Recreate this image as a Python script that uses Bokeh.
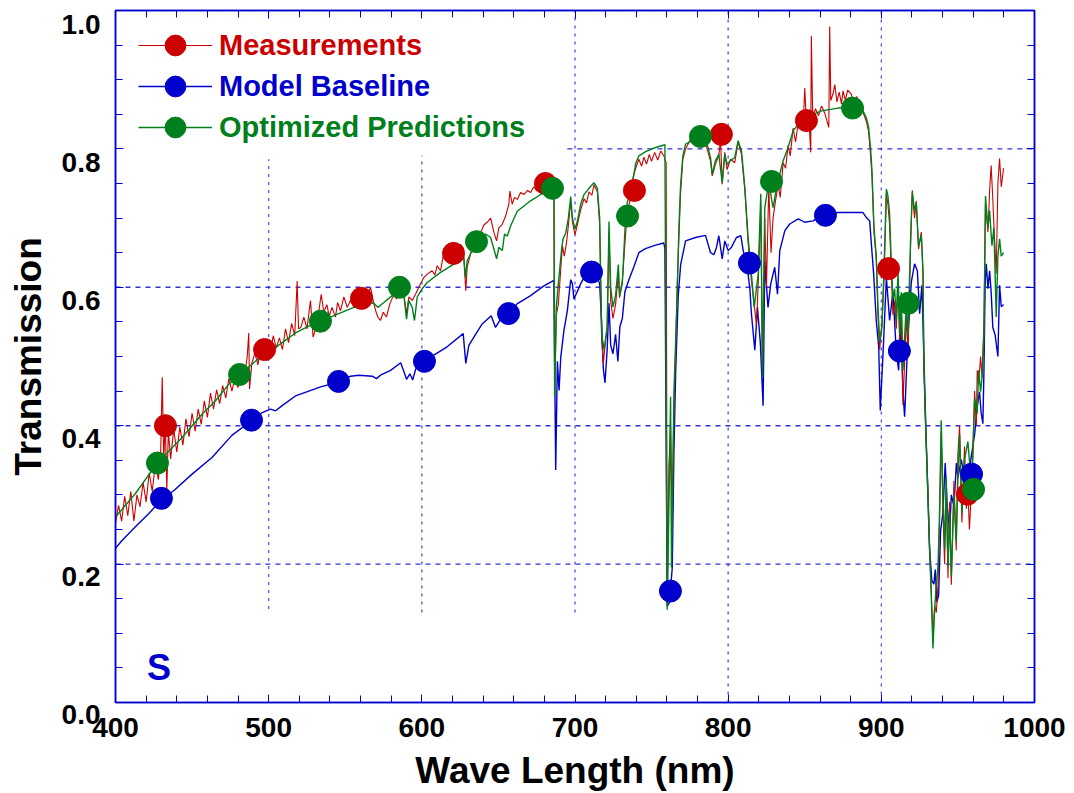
from bokeh.plotting import figure
from bokeh.models import (Range1d, LinearAxis, FixedTicker, Legend,
                          LegendItem, Label, ColumnDataSource)
from bokeh.embed import file_html
from bokeh.resources import INLINE

# ---------------- data ----------------
MEAS_X = [400, 402, 404, 406, 408, 410, 412, 414, 416, 418, 420, 422, 424, 426, 428, 429.5, 430.5, 431.5,
          432.5, 433.5, 434.5, 436, 438, 440, 442, 444, 446, 448, 450, 452, 454, 456, 458, 460, 462, 464,
          466, 468, 470, 472, 474, 476, 478, 480, 482, 484, 486, 487, 487.5, 489, 491, 493, 495, 497, 499,
          501, 503, 505, 507, 509, 511, 513, 515, 517, 518.6, 519.5, 521, 523, 525, 527.3, 529, 531.6,
          534.3, 536, 538, 539.5, 541.4, 543.6, 545, 546.9, 549.1, 551.3, 553.4, 555.5, 557.5, 559.5,
          561.5, 563, 564.3, 566.5, 568.7, 570, 571.3, 573, 574.8, 576.9, 579.1, 581.8, 583.5, 585,
          588.2, 590, 591.5, 593.7, 595.9, 598, 601.3, 603.5, 606.7, 608.5, 610, 612.2, 614.8, 616.5,
          618.5, 620, 622, 623.5, 625.2, 627, 628.7, 629.6, 631.8, 634, 636, 638.4, 640.5, 642.7, 644.9,
          647.1, 648.8, 650.3, 652.5, 654.7, 656.8, 657.5, 659, 660.5, 662.3, 664.5, 666.6, 669, 671,
          673, 675.3, 677.5, 680, 682, 684, 686.2, 686.7, 687.8, 689.1, 690.5, 691.8, 693, 694.5, 695.7,
          697.2, 698.3, 700, 701.5, 703.7, 705.9, 707.5, 709.1, 711, 712.4, 714.6, 716.1, 717.4, 718.5,
          719.6, 721, 722.2, 723.3, 724.8, 726.5, 728.3, 729.1, 730.9, 732.5, 734.1, 736.3, 738, 739.6,
          741.7, 743.5, 745, 746.7, 748.5, 750, 752, 754, 756, 758, 759.5, 760.2, 761.3, 762.4, 763.5,
          764.6, 765.7, 766.7, 767.8, 768.9, 770.4, 772.2, 775, 778, 781, 784, 786.3, 788.5, 789.6,
          791.7, 793.9, 795, 796.1, 797.8, 799.3, 801.5, 804.3, 806.5, 808.7, 810.9, 813, 815.2, 817,
          818.5, 819.6, 821.3, 822.4, 823.9, 825, 826.5, 828, 829.3, 830.9, 832.6, 834, 835.9, 837.5,
          839.1, 840.5, 842.4, 844, 845.7, 847.5, 849, 850, 851, 852.5, 853.9, 854.3, 855.2, 857, 859,
          861, 863, 865.7, 866.3, 867, 868.5, 869.6, 871, 872.5, 874, 875, 876.5, 878, 880.4, 882, 884,
          885.5, 887, 888.5, 890.2, 891.7, 893, 893.9, 895.2, 896.7, 897.8, 898.9, 900.4, 901.7, 903.3,
          904.3, 905.4, 906.5, 907.6, 908.7, 909.8, 910.9, 912, 913, 914.1, 915, 916.3, 917.4, 919.1,
          920.2, 921.7, 922.8, 924.3, 926.1, 927.2, 927.8, 928.9, 930.4, 931.5, 932.6, 933.7, 934.8,
          935.9, 937, 938, 939.1, 940.2, 941.3, 942.4, 943.5, 944.6, 945.7, 947.4, 948.9, 950, 951.1,
          952.6, 954.3, 955.5, 956.5, 957.5, 959.1, 960.9, 962, 962.6, 963.5, 964.8, 965.7, 967, 968,
          969.6, 970.7, 971.7, 972.8, 973.5, 975, 976.1, 977.2, 978.3, 979.8]
MEAS_Y = [0.259, 0.285, 0.262, 0.298, 0.270, 0.305, 0.262, 0.300, 0.283, 0.318, 0.290, 0.332, 0.305, 0.345,
          0.322, 0.360, 0.470, 0.350, 0.405, 0.307, 0.392, 0.352, 0.395, 0.362, 0.398, 0.372, 0.410, 0.384,
          0.418, 0.392, 0.424, 0.402, 0.436, 0.412, 0.447, 0.424, 0.452, 0.432, 0.458, 0.440, 0.468, 0.450,
          0.470, 0.455, 0.488, 0.468, 0.500, 0.534, 0.453, 0.490, 0.505, 0.488, 0.515, 0.500, 0.522, 0.505,
          0.530, 0.512, 0.527, 0.510, 0.540, 0.520, 0.548, 0.530, 0.609, 0.540, 0.542, 0.557, 0.540, 0.581,
          0.528, 0.547, 0.590, 0.564, 0.575, 0.558, 0.571, 0.557, 0.578, 0.566, 0.586, 0.571, 0.581, 0.572,
          0.590, 0.578, 0.595, 0.583, 0.586, 0.600, 0.576, 0.565, 0.557, 0.552, 0.564, 0.557, 0.576, 0.590,
          0.583, 0.598, 0.590, 0.562, 0.586, 0.581, 0.590, 0.600, 0.614, 0.619, 0.624, 0.618, 0.631, 0.624,
          0.655, 0.648, 0.640, 0.652, 0.645, 0.660, 0.662, 0.657, 0.595, 0.629, 0.648, 0.662, 0.672, 0.679,
          0.690, 0.694, 0.700, 0.679, 0.667, 0.686, 0.691, 0.703, 0.720, 0.739, 0.720, 0.730, 0.727, 0.737,
          0.734, 0.740, 0.737, 0.745, 0.739, 0.748, 0.745, 0.752, 0.744, 0.739, 0.450, 0.560, 0.575, 0.620,
          0.660, 0.645, 0.665, 0.690, 0.725, 0.695, 0.676, 0.690, 0.712, 0.728, 0.722, 0.738, 0.733, 0.748,
          0.738, 0.690, 0.525, 0.490, 0.515, 0.540, 0.680, 0.580, 0.555, 0.575, 0.620, 0.585, 0.610, 0.660,
          0.710, 0.728, 0.760, 0.772, 0.785, 0.775, 0.788, 0.778, 0.792, 0.782, 0.795, 0.784, 0.797, 0.790,
          0.780, 0.140, 0.340, 0.400, 0.260, 0.430, 0.510, 0.600, 0.670, 0.735, 0.785, 0.800, 0.812, 0.808,
          0.818, 0.812, 0.800, 0.782, 0.761, 0.778, 0.790, 0.815, 0.749, 0.795, 0.770, 0.785, 0.780, 0.810,
          0.792, 0.740, 0.665, 0.610, 0.575, 0.545, 0.605, 0.720, 0.475, 0.700, 0.600, 0.745, 0.650, 0.700,
          0.725, 0.748, 0.730, 0.780, 0.772, 0.805, 0.790, 0.830, 0.810, 0.838, 0.850, 0.835, 0.888, 0.842,
          0.855, 0.795, 0.963, 0.845, 0.858, 0.848, 0.862, 0.852, 0.831, 0.977, 0.870, 0.880, 0.893, 0.868,
          0.882, 0.865, 0.884, 0.870, 0.885, 0.879, 0.862, 0.876, 0.860, 0.864, 0.850, 0.840, 0.825, 0.790,
          0.760, 0.680, 0.640, 0.560, 0.510, 0.550, 0.610, 0.735, 0.720, 0.690, 0.620, 0.560, 0.580, 0.540,
          0.610, 0.520, 0.580, 0.430, 0.480, 0.560, 0.500, 0.660, 0.740, 0.700, 0.725, 0.655, 0.680, 0.620,
          0.490, 0.400, 0.310, 0.225, 0.160, 0.095, 0.140, 0.130, 0.170, 0.260, 0.390, 0.280, 0.200, 0.310,
          0.180, 0.290, 0.170, 0.320, 0.220, 0.360, 0.400, 0.260, 0.370, 0.280, 0.310, 0.250, 0.320, 0.450,
          0.400, 0.480, 0.460, 0.500, 0.470, 0.550, 0.720, 0.680, 0.740, 0.776, 0.727, 0.690, 0.620, 0.750,
          0.786, 0.745, 0.772]

BASE_X = [400, 404.4, 413, 421.8, 430.5, 438, 450, 463, 476, 488, 495.8, 501.2, 504.5, 508.8, 517.5, 526.2,
          533.9, 545.6, 553.4, 558.9, 567.6, 570.4, 573, 579.6, 586.2, 588.8, 590.0, 592.2, 594, 596, 601.7,
          607.8, 616.5, 627, 628.7, 630.7, 634, 639.4, 645.3, 648.1, 651.4, 656.8, 662.2, 671, 679.7, 686.2,
          687.4, 688.5, 689.6, 690.7, 692.8, 695, 697.2, 698.3, 699.3, 701.5, 703.7, 705.9, 709.1, 714.6,
          716.1, 717.4, 718.5, 719.6, 721, 722.2, 723.3, 724.8, 726.5, 728, 729.3, 730.9, 732.6, 735.2,
          738.5, 741.7, 746, 752.6, 758, 758.7, 760.2, 761.7, 763.5, 764.6, 765.7, 767.4, 769, 772.2, 778.7,
          785.2, 788.5, 790.7, 792.4, 793.9, 796.1, 797.8, 800, 802.2, 805.4, 808.3, 809.8, 812, 814.1,
          815.2, 817.4, 819.1, 821, 822.8, 823.9, 826, 827.8, 830.4, 832.2, 833.7, 837, 840.2, 845.7, 850,
          855.4, 861.5, 871.7, 882.6, 888, 890.2, 892.4, 893.5, 895, 896.7, 898.3, 899.3, 901.1, 903.3,
          905.4, 907.6, 909.8, 911.3, 912.6, 914.1, 915.2, 917.4, 919.6, 921.7, 923.5, 925, 926.5, 929.3,
          930.4, 931.5, 933, 934.3, 935.2, 936.3, 937.4, 938.7, 940.2, 941.7, 943, 944.6, 945.7, 947.4, 949,
          950, 952.2, 954.3, 957, 959.1, 960.9, 962.6, 964.1, 965.2, 966.3, 967, 967.8, 968.5, 969.6, 970.7,
          971.7, 972.8, 974.3, 976.1, 977.2, 978.3, 979.8]
BASE_Y = [0.223, 0.2345, 0.254, 0.273, 0.2945, 0.306, 0.330, 0.354, 0.386, 0.406, 0.419, 0.424, 0.4215,
          0.429, 0.443, 0.450, 0.456, 0.463, 0.4715, 0.473, 0.4715, 0.468, 0.473, 0.480, 0.491, 0.475, 0.467,
          0.475, 0.466, 0.482, 0.492, 0.502, 0.514, 0.533, 0.490, 0.516, 0.528, 0.547, 0.559, 0.542, 0.554,
          0.5625, 0.576, 0.588, 0.602, 0.610, 0.336, 0.493, 0.451, 0.499, 0.538, 0.566, 0.611, 0.605, 0.583,
          0.594, 0.605, 0.614, 0.620, 0.616, 0.605, 0.549, 0.482, 0.462, 0.510, 0.577, 0.516, 0.504, 0.532,
          0.493, 0.543, 0.555, 0.594, 0.611, 0.630, 0.650, 0.656, 0.661, 0.664, 0.656, 0.139, 0.145, 0.195,
          0.364, 0.476, 0.588, 0.633, 0.667, 0.672, 0.675, 0.650, 0.647, 0.658, 0.6745, 0.641, 0.667, 0.653,
          0.658, 0.672, 0.6745, 0.653, 0.636, 0.600, 0.5615, 0.509, 0.571, 0.520, 0.429, 0.638, 0.571, 0.605,
          0.629, 0.590, 0.653, 0.682, 0.6915, 0.699, 0.694, 0.696, 0.704, 0.708, 0.708, 0.708, 0.701, 0.696,
          0.6625, 0.619, 0.552, 0.513, 0.422, 0.504, 0.614, 0.552, 0.593, 0.505, 0.480, 0.557, 0.449, 0.413,
          0.531, 0.608, 0.634, 0.624, 0.562, 0.603, 0.377, 0.300, 0.222, 0.176, 0.171, 0.192, 0.145, 0.155,
          0.248, 0.274, 0.346, 0.284, 0.248, 0.300, 0.284, 0.346, 0.325, 0.351, 0.325, 0.330, 0.361, 0.387,
          0.428, 0.449, 0.418, 0.403, 0.480, 0.608, 0.634, 0.598, 0.624, 0.593, 0.542, 0.531, 0.500, 0.603,
          0.572, 0.575]

OPT_X = [400, 413, 427.6, 443.5, 456.6, 465.3, 474, 481.2, 491.4, 500.1, 508.8, 517.5, 526.2, 533.9, 542.6,
         555.6, 564.3, 568.7, 571.3, 575.2, 580.6, 585.6, 588.2, 590, 591.5, 593.7, 595.2, 597, 600.2, 603.5,
         612.2, 620.9, 627.4, 628.5, 629.6, 632.9, 636.6, 641.6, 644.9, 647.1, 648.8, 650.3, 652.5, 654,
         655.8, 658, 662.3, 671, 679.7, 686.3, 686.7, 687.8, 689.1, 691.3, 692.2, 693.9, 695.7, 697.2, 698.3,
         700, 701.5, 703.7, 705.9, 709.1, 712.4, 714.6, 716.1, 717.4, 719, 721, 722.2, 723.3, 724.8, 726.5,
         728.3, 729.1, 730.9, 733, 734.1, 736.3, 739.6, 741.7, 746.1, 752.6, 758.7, 760.2, 761.3, 762.4, 763,
         763.5, 764.6, 765.7, 766.7, 767.8, 768.9, 770.4, 772.2, 780.9, 786.3, 788.5, 789.6, 791.7, 793.9,
         796.1, 797.8, 799.3, 801.5, 804.3, 806.5, 808.7, 810.9, 813, 815.2, 817, 819.6, 821.3, 822.4, 823.9,
         826.5, 829.3, 830.9, 832.6, 835.9, 839.1, 842.4, 845.7, 850, 855.4, 860.9, 871.7, 878.3, 884.8, 888,
         890.2, 891.7, 893, 893.9, 895.2, 896.7, 897.8, 898.9, 900.4, 901.7, 903.3, 904.3, 905.4, 906.5,
         907.6, 908.7, 909.8, 910.9, 912, 913, 914.1, 916.3, 917.4, 919.1, 920.2, 921.7, 922.8, 924.3, 926.1,
         927.2, 927.8, 928.9, 930.4, 931.5, 932.6, 933.7, 934.8, 935.9, 937, 938, 939.1, 940.2, 941.3, 942.4,
         943.5, 944.6, 945.7, 947.4, 948.9, 950, 951.1, 952.6, 954.3, 956.5, 959.1, 960.9, 962.6, 963.5,
         964.8, 965.7, 967, 968, 969.6, 970.7, 972.2, 973.5, 975, 976.1, 977.2, 978.3, 979.8]
OPT_Y = [0.268, 0.302, 0.347, 0.383, 0.417, 0.436, 0.460, 0.473, 0.4935, 0.5055, 0.520, 0.534, 0.544, 0.551,
         0.559, 0.571, 0.578, 0.577, 0.571, 0.578, 0.588, 0.599, 0.590, 0.554, 0.581, 0.571, 0.552, 0.586,
         0.598, 0.607, 0.6215, 0.6335, 0.643, 0.614, 0.638, 0.654, 0.666, 0.677, 0.672, 0.655, 0.641, 0.658,
         0.653, 0.677, 0.674, 0.689, 0.710, 0.725, 0.737, 0.742, 0.4425, 0.571, 0.605, 0.656, 0.670, 0.678,
         0.700, 0.731, 0.700, 0.684, 0.695, 0.720, 0.734, 0.743, 0.751, 0.743, 0.700, 0.532, 0.510, 0.543,
         0.695, 0.600, 0.5715, 0.588, 0.633, 0.588, 0.605, 0.700, 0.723, 0.734, 0.779, 0.790, 0.796, 0.802,
         0.806, 0.134, 0.280, 0.442, 0.195, 0.274, 0.448, 0.521, 0.588, 0.684, 0.746, 0.790, 0.807, 0.817,
         0.807, 0.787, 0.763, 0.783, 0.792, 0.751, 0.792, 0.778, 0.783, 0.7875, 0.812, 0.797, 0.744, 0.672,
         0.619, 0.571, 0.619, 0.735, 0.470, 0.715, 0.751, 0.715, 0.735, 0.754, 0.783, 0.802, 0.826, 0.8355,
         0.840, 0.850, 0.855, 0.859, 0.860, 0.857, 0.855, 0.845, 0.831, 0.800, 0.768, 0.686, 0.645, 0.5725,
         0.521, 0.542, 0.624, 0.742, 0.732, 0.706, 0.634, 0.583, 0.598, 0.552, 0.624, 0.531, 0.593, 0.480,
         0.575, 0.531, 0.670, 0.737, 0.711, 0.722, 0.660, 0.675, 0.624, 0.480, 0.403, 0.300, 0.222, 0.155,
         0.078, 0.135, 0.171, 0.197, 0.274, 0.408, 0.300, 0.222, 0.325, 0.197, 0.274, 0.182, 0.300, 0.233,
         0.325, 0.387, 0.274, 0.351, 0.377, 0.307, 0.439, 0.418, 0.480, 0.449, 0.469, 0.531, 0.732, 0.686,
         0.711, 0.660, 0.686, 0.557, 0.645, 0.670, 0.645, 0.650]

# sampled marker points
MEAS_MX = [432.6, 497.3, 560.6, 620.7, 680.7, 738.8, 795.6, 851.1, 904.7, 956.2]
MEAS_MY = [0.400, 0.510, 0.584, 0.649, 0.750, 0.740, 0.821, 0.841, 0.627, 0.301]
BASE_MX = [430.0, 488.8, 545.6, 601.7, 656.6, 710.8, 762.3, 813.9, 863.5, 911.8, 958.9]
BASE_MY = [0.295, 0.408, 0.464, 0.493, 0.562, 0.622, 0.161, 0.635, 0.704, 0.508, 0.330]
OPT_MX = [427.4, 481.0, 533.8, 585.4, 635.7, 685.3, 734.3, 781.9, 828.3, 881.2, 917.7, 960.2]
OPT_MY = [0.346, 0.474, 0.551, 0.600, 0.666, 0.743, 0.703, 0.818, 0.753, 0.859, 0.577, 0.308]

SERIES_NAMES = ["Measurements", "Model Baseline", "Optimized Predictions"]
X_TICKS = [400, 500, 600, 700, 800, 900, 1000]
Y_TICKS = [0.0, 0.2, 0.4, 0.6, 0.8, 1.0]
Y_TICK_LABELS = ["0.0", "0.2", "0.4", "0.6", "0.8", "1.0"]
PANEL_TAG = "S"

# ---------------- styling ----------------
FONT = "Liberation Sans"
AX = "#0000cc"
GRID = "#2525dd"
RED = "#cc0000"
BLUE = "#0000cc"
GREEN = "#00801c"

p = figure(width=1074, height=793, output_backend="svg", toolbar_location=None,
           x_range=Range1d(400, 1000), y_range=Range1d(0, 1.0),
           x_axis_location=None, y_axis_location=None,
           min_border_left=115, min_border_right=40, min_border_top=10, min_border_bottom=91)
p.background_fill_color = "white"
p.border_fill_color = "white"
p.outline_line_color = AX
p.outline_line_width = 1.5
p.xgrid.visible = False
p.ygrid.visible = False

x_minor = [400 + 20 * i for i in range(31)]
y_minor = [0.05 * i for i in range(21)]


def style_axis(ax):
    ax.axis_line_color = AX
    ax.axis_line_width = 1.5
    ax.major_tick_line_color = AX
    ax.minor_tick_line_color = AX
    ax.major_tick_in = 8
    ax.major_tick_out = 0
    ax.minor_tick_in = 7
    ax.minor_tick_out = 0


bottom = LinearAxis(ticker=FixedTicker(ticks=X_TICKS, minor_ticks=x_minor), axis_label="Wave Length (nm)")
style_axis(bottom)
bottom.major_label_text_font = FONT
bottom.major_label_text_font_style = "bold"
bottom.major_label_text_font_size = "28px"
bottom.major_label_text_color = "black"
bottom.major_label_standoff = 15
bottom.axis_label_text_font = FONT
bottom.axis_label_text_font_style = "bold"
bottom.axis_label_text_font_size = "37px"
bottom.axis_label_text_color = "black"
bottom.axis_label_standoff = 10
p.add_layout(bottom, "below")

left = LinearAxis(ticker=FixedTicker(ticks=Y_TICKS, minor_ticks=y_minor), axis_label="Transmission",
                  major_label_overrides={t: "" for t in Y_TICKS})
style_axis(left)
left.major_label_standoff = 0
left.axis_label_text_font = FONT
left.axis_label_text_font_style = "bold"
left.axis_label_text_font_size = "37px"
left.axis_label_text_color = "black"
left.axis_label_standoff = 67
p.add_layout(left, "left")

top = LinearAxis(ticker=FixedTicker(ticks=X_TICKS, minor_ticks=x_minor),
                 major_label_overrides={t: "" for t in X_TICKS})
style_axis(top)
top.major_label_standoff = 0
p.add_layout(top, "above")

right = LinearAxis(ticker=FixedTicker(ticks=Y_TICKS, minor_ticks=y_minor),
                   major_label_overrides={t: "" for t in Y_TICKS})
style_axis(right)
right.major_label_standoff = 0
p.add_layout(right, "right")

# y tick labels, drawn slightly below their ticks as in the original.
# One multi-line label, anchored at the top tick, kept in a side panel so it is not clipped.
ytext = "\n".join(reversed(Y_TICK_LABELS))
p.add_layout(Label(x=400, y=max(Y_TICKS), text=ytext, x_offset=-15, y_offset=2,
                   text_align="right", text_baseline="top", text_font=FONT,
                   text_font_style="bold", text_font_size="28px", text_color="black",
                   text_line_height=4.455), "right")

# partial dotted grid lines
vg = dict(x0=[500, 600, 700, 800, 900], y0=[0.135, 0.13, 0.13, 0.0, 0.0],
          x1=[500, 600, 700, 800, 900], y1=[0.785, 0.79, 1.0, 1.0, 1.0])
hg = dict(x0=[695, 400, 400, 400], y0=[0.8, 0.6, 0.4, 0.2], x1=[1000, 1000, 1000, 1000], y1=[0.8, 0.6, 0.4, 0.2])
p.segment(x0="x0", y0="y0", x1="x1", y1="y1", source=ColumnDataSource(vg),
          line_color=GRID, line_width=1.4, line_dash="3 5", line_alpha=0.75)
p.segment(x0="x0", y0="y0", x1="x1", y1="y1", source=ColumnDataSource(hg),
          line_color=GRID, line_width=1.4, line_dash="5 5", line_alpha=0.95)

# curves
base_line = p.line(BASE_X, BASE_Y, line_color=BLUE, line_width=1.4)
meas_line = p.line(MEAS_X, MEAS_Y, line_color=RED, line_width=1.1)
opt_line = p.line(OPT_X, OPT_Y, line_color=GREEN, line_width=1.4)

meas_pts = p.scatter(MEAS_MX, MEAS_MY, size=22, fill_color=RED, line_color=RED)
base_pts = p.scatter(BASE_MX, BASE_MY, size=22, fill_color=BLUE, line_color=BLUE)
opt_pts = p.scatter(OPT_MX, OPT_MY, size=22, fill_color=GREEN, line_color=GREEN)

# legend: one per entry so each label keeps its series colour
entries = [(SERIES_NAMES[0], [meas_line, meas_pts], RED, 631),
           (SERIES_NAMES[1], [base_line, base_pts], BLUE, 590),
           (SERIES_NAMES[2], [opt_line, opt_pts], GREEN, 549)]
for name, rends, col, ypos in entries:
    lg = Legend(items=[LegendItem(label=name, renderers=rends)], location=(23, ypos),
                glyph_width=74, glyph_height=52, label_height=20, label_standoff=7,
                padding=0, margin=0, spacing=0, border_line_color=None,
                background_fill_alpha=0, label_text_font=FONT, label_text_font_style="bold",
                label_text_font_size="29px", label_text_color=col)
    p.add_layout(lg)

p.add_layout(Label(x=420.5, y=0.051, text=PANEL_TAG, text_font=FONT, text_font_style="bold",
                   text_font_size="36px", text_color=BLUE, text_baseline="alphabetic"))

open("out.html", "w").write(file_html(p, INLINE))
